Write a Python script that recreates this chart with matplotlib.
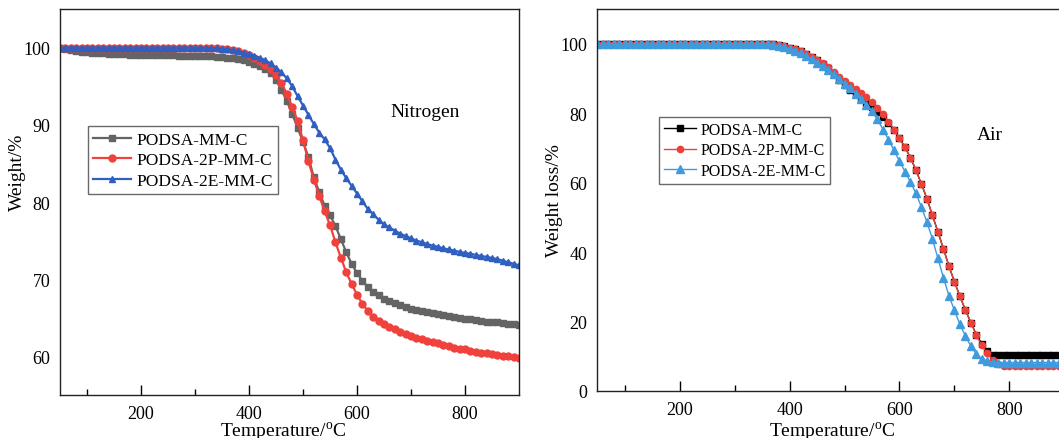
import numpy as np
import matplotlib
matplotlib.use('Agg')
import matplotlib.pyplot as plt

plt.rcParams['font.family'] = ['Liberation Serif', 'DejaVu Serif']
plt.rcParams['mathtext.fontset'] = 'custom'
plt.rcParams['mathtext.rm'] = 'Liberation Serif'

# Temperature grid shared by all TGA runs (degC)
temp = np.arange(50, 901, 10)

# Nitrogen atmosphere, weight %
n2_mm = [
    100.0, 99.8, 99.65, 99.55, 99.45, 99.4, 99.35, 99.3, 99.25, 99.2,
    99.2, 99.15, 99.15, 99.1, 99.1, 99.1, 99.05, 99.05, 99.0, 99.0,
    99.0, 99.0, 98.95, 98.95, 98.9, 98.9, 98.9, 98.85, 98.85, 98.8,
    98.75, 98.7, 98.6, 98.5, 98.35, 98.15, 97.9, 97.6, 97.2, 96.7,
    95.8, 94.5, 93.1, 91.4, 89.6, 87.8, 85.8, 83.2, 81.3, 79.5,
    78.3, 76.9, 75.2, 73.5, 72.0, 70.8, 69.8, 69.0, 68.4, 67.9,
    67.5, 67.2, 66.9, 66.6, 66.4, 66.2, 66.05, 65.9, 65.8, 65.65,
    65.5, 65.4, 65.25, 65.1, 65.0, 64.9, 64.8, 64.7, 64.6, 64.5,
    64.45, 64.4, 64.3, 64.25, 64.2, 64.1,
]
n2_2p = [
    100.0, 100.0, 100.0, 100.0, 100.0, 100.0, 100.0, 100.0, 100.0, 100.0,
    100.0, 100.0, 100.0, 100.0, 100.0, 100.0, 100.0, 100.0, 100.0, 100.0,
    100.0, 100.0, 100.0, 100.0, 100.0, 100.0, 100.0, 99.95, 99.95, 99.9,
    99.85, 99.8, 99.7, 99.5, 99.3, 99.0, 98.7, 98.3, 97.8, 97.2,
    96.5, 95.4, 94.0, 92.3, 90.5, 88.0, 85.3, 82.9, 80.8, 78.8,
    77.0, 74.8, 72.8, 70.9, 69.4, 68.0, 66.8, 65.9, 65.1, 64.6,
    64.2, 63.8, 63.5, 63.2, 62.9, 62.6, 62.4, 62.2, 62.0, 61.85,
    61.7, 61.5, 61.3, 61.15, 61.0, 60.9, 60.75, 60.6, 60.5, 60.4,
    60.3, 60.2, 60.1, 60.0, 59.9, 59.8,
]
n2_2e = [
    100.0, 100.0, 100.0, 100.0, 100.0, 100.0, 100.0, 100.0, 100.0, 100.0,
    100.0, 100.0, 100.0, 100.0, 100.0, 100.0, 100.0, 100.0, 100.0, 100.0,
    100.0, 100.0, 100.0, 100.0, 100.0, 100.0, 100.0, 99.95, 99.95, 99.9,
    99.85, 99.8, 99.7, 99.55, 99.35, 99.15, 98.95, 98.7, 98.35, 97.95,
    97.4, 96.8, 96.0, 95.0, 93.7, 92.5, 91.3, 90.1, 89.0, 88.1,
    87.0, 85.5, 84.2, 83.1, 82.1, 81.1, 80.1, 79.1, 78.4, 77.7,
    77.1, 76.7, 76.3, 75.9, 75.6, 75.3, 75.0, 74.8, 74.55, 74.35,
    74.2, 74.0, 73.85, 73.7, 73.55, 73.4, 73.3, 73.15, 73.0, 72.9,
    72.75, 72.6, 72.4, 72.2, 72.0, 71.8,
]

# Air atmosphere, weight loss %
air_mm = [
    100.0, 100.0, 100.0, 100.0, 100.0, 100.0, 100.0, 100.0, 100.0, 100.0,
    100.0, 100.0, 100.0, 100.0, 100.0, 100.0, 100.0, 100.0, 100.0, 100.0,
    100.0, 100.0, 100.0, 100.0, 100.0, 100.0, 100.0, 100.0, 100.0, 100.0,
    100.0, 99.9, 99.8, 99.6, 99.3, 98.9, 98.4, 97.8, 97.1, 96.3,
    95.3, 94.2, 92.9, 91.4, 89.6, 88.1, 86.8, 85.5, 84.1, 82.9,
    81.7, 80.3, 78.9, 77.3, 75.3, 72.8, 70.2, 67.2, 63.6, 59.6,
    55.4, 50.6, 45.8, 41.0, 36.0, 31.5, 27.3, 23.3, 19.7, 16.2,
    13.6, 11.5, 10.5, 10.3, 10.3, 10.3, 10.3, 10.3, 10.3, 10.3,
    10.3, 10.3, 10.3, 10.3, 10.3, 10.3,
]
air_2p = [
    100.0, 100.0, 100.0, 100.0, 100.0, 100.0, 100.0, 100.0, 100.0, 100.0,
    100.0, 100.0, 100.0, 100.0, 100.0, 100.0, 100.0, 100.0, 100.0, 100.0,
    100.0, 100.0, 100.0, 100.0, 100.0, 100.0, 100.0, 100.0, 100.0, 100.0,
    100.0, 99.9, 99.8, 99.6, 99.3, 98.9, 98.4, 97.8, 97.1, 96.3,
    95.4, 94.4, 93.2, 91.9, 90.5, 89.2, 88.0, 86.9, 85.8, 84.6,
    83.1, 81.5, 79.7, 77.6, 75.3, 72.8, 70.2, 67.2, 63.6, 59.6,
    55.4, 50.6, 45.8, 41.0, 36.0, 31.5, 27.3, 23.3, 19.7, 16.0,
    13.1, 10.8, 9.0, 7.8, 7.3, 7.2, 7.2, 7.2, 7.2, 7.2,
    7.2, 7.2, 7.2, 7.2, 7.2, 7.2,
]
air_2e = [
    100.0, 100.0, 100.0, 100.0, 100.0, 100.0, 100.0, 100.0, 100.0, 100.0,
    100.0, 100.0, 100.0, 100.0, 100.0, 100.0, 100.0, 100.0, 100.0, 100.0,
    100.0, 100.0, 100.0, 100.0, 100.0, 100.0, 100.0, 100.0, 100.0, 100.0,
    100.0, 99.9, 99.7, 99.4, 99.0, 98.5, 97.9, 97.2, 96.4, 95.5,
    94.5, 93.5, 92.4, 91.2, 89.9, 88.5, 87.2, 85.6, 84.0, 82.4,
    80.5, 78.2, 75.3, 72.4, 69.3, 66.2, 63.2, 60.2, 56.9, 53.0,
    48.6, 43.8, 38.2, 32.6, 27.5, 23.2, 19.2, 15.8, 12.9, 10.6,
    9.2, 8.6, 8.3, 8.2, 8.2, 8.2, 8.2, 8.2, 8.2, 8.2,
    8.2, 8.2, 8.2, 8.2, 8.2, 8.2,
]

labels = ['PODSA-MM-C', 'PODSA-2P-MM-C', 'PODSA-2E-MM-C']
markers = ['s', 'o', '^']
n2_colors = ['#646464', '#f0413c', '#2f5fc0']
air_colors = ['#000000', '#ec4038', '#3f9ade']

fig = plt.figure(figsize=(10.59, 4.39), dpi=100)
ax1 = fig.add_axes([0.0567, 0.0979, 0.4334, 0.8793])
ax2 = fig.add_axes([0.564, 0.1071, 0.441, 0.870])

for ys, lab, mk, c in zip([n2_mm, n2_2p, n2_2e], labels, markers, n2_colors):
    ax1.plot(temp, ys, color=c, marker=mk, markersize=5, linewidth=1.6, label=lab)

for ys, lab, mk, c, ms in zip([air_mm, air_2p, air_2e], labels, markers, air_colors, [4, 4.5, 5.5]):
    ax2.plot(temp, ys, color=c, marker=mk, markersize=ms, linewidth=1.0, label=lab)

xlabel = r'Temperature/$^{\mathrm{o}}$C'
for ax in (ax1, ax2):
    ax.set_xlim(50, 900)
    ax.set_xticks([200, 400, 600, 800])
    ax.set_xticks([100, 300, 500, 700], minor=True)
    ax.tick_params(axis='x', which='major', direction='in', length=7, width=1, pad=7, labelsize=13)
    ax.tick_params(axis='x', which='minor', direction='in', length=4, width=1)
    ax.tick_params(axis='y', which='major', direction='in', length=0, pad=7, labelsize=13)
    ax.tick_params(top=False, right=False)
    for s in ax.spines.values():
        s.set_linewidth(1.0)
        s.set_color('#222222')
    ax.set_xlabel(xlabel, fontsize=14)

ax1.set_ylim(55, 105)
ax1.set_yticks([60, 70, 80, 90, 100])
ax1.set_ylabel('Weight/%', fontsize=14)
ax1.yaxis.set_label_coords(-0.074, 0.58)
ax1.xaxis.set_label_coords(0.486, -0.064)
ax1.text(0.795, 0.735, 'Nitrogen', transform=ax1.transAxes, fontsize=14, ha='center', va='center')
leg1 = ax1.legend(loc='upper left', bbox_to_anchor=(0.061, 0.696), fontsize=12.5, frameon=True,
                  fancybox=False, edgecolor='#444444', handlelength=2.2, handletextpad=0.3,
                  borderpad=0.3, labelspacing=0.25, borderaxespad=0)
leg1.get_frame().set_linewidth(1.0)

ax2.set_ylim(0, 110)
ax2.set_yticks([0, 20, 40, 60, 80, 100])
ax2.set_ylabel('Weight loss/%', fontsize=14)
ax2.yaxis.set_label_coords(-0.073, 0.50)
ax2.xaxis.set_label_coords(0.503, -0.076)
ax2.text(0.84, 0.672, 'Air', transform=ax2.transAxes, fontsize=14, ha='center', va='center')
leg2 = ax2.legend(loc='upper left', bbox_to_anchor=(0.132, 0.717), fontsize=11.5, frameon=True,
                  fancybox=False, edgecolor='#444444', handlelength=2.0, handletextpad=0.3,
                  borderpad=0.3, labelspacing=0.28, borderaxespad=0)
leg2.get_frame().set_linewidth(1.0)

fig.savefig('out.png', dpi=100)
plt.close(fig)
